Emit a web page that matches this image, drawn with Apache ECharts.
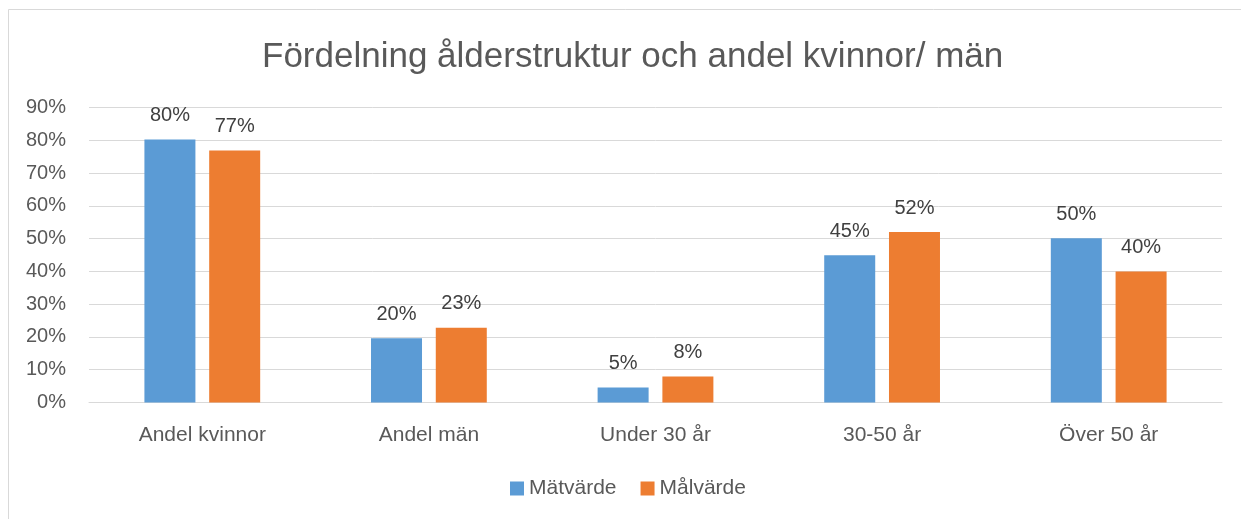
<!DOCTYPE html>
<html>
<head>
<meta charset="utf-8">
<script src="https://cdn.jsdelivr.net/npm/echarts@6/dist/echarts.min.js"></script>
<style>
  html, body { margin: 0; padding: 0; background: #fff; }
  #chart { width: 1241px; height: 519px; }
</style>
</head>
<body>
<div id="chart"></div>
<script>
// data (percent)
const categories = ['Andel kvinnor', 'Andel män', 'Under 30 år', '30-50 år', 'Över 50 år']
const matvarde = [80.2, 19.6, 4.6, 44.9, 50.1]
const malvarde = [76.9, 22.8, 7.9, 52.0, 40.0]
const legendNames = ['Mätvärde', 'Målvärde']

const font = 'Liberation Sans, Arial, sans-serif'

const labelOpt = {
  show: true,
  position: 'top',
  distance: 14,
  fontFamily: font,
  fontSize: 20,
  color: '#404040',
  formatter: p => Math.round(p.value) + '%'
}

const chart = echarts.init(document.getElementById('chart'), null, { renderer: 'canvas' })

chart.setOption({
  animation: false,
  backgroundColor: '#fff',
  graphic: [{
    type: 'rect',
    shape: { x: 8.5, y: 9.5, width: 1300, height: 600 },
    style: { fill: 'none', stroke: '#d9d9d9', lineWidth: 1 },
    silent: true
  }],
  title: {
    text: 'Fördelning ålderstruktur och andel kvinnor/ män',
    left: 257,
    top: 35,
    textStyle: { fontFamily: font, fontSize: 35, fontWeight: 'normal', color: '#595959' }
  },
  legend: {
    data: legendNames,
    left: 510,
    top: 478,
    padding: 0,
    itemWidth: 14,
    itemHeight: 14,
    itemGap: 24,
    icon: 'rect',
    textStyle: { fontFamily: font, fontSize: 21, color: '#595959' }
  },
  grid: { left: 89, right: 19, top: 107.5, bottom: 116.5 },
  xAxis: {
    type: 'category',
    data: categories,
    axisTick: { show: false },
    axisLine: { lineStyle: { color: '#d9d9d9', width: 1 } },
    axisLabel: { fontFamily: font, fontSize: 21, color: '#595959', margin: 22 }
  },
  yAxis: {
    type: 'value',
    min: 0,
    max: 90,
    interval: 10,
    axisLine: { show: false },
    axisTick: { show: false },
    splitLine: { lineStyle: { color: '#d9d9d9', width: 1 } },
    axisLabel: { fontFamily: font, fontSize: 20, color: '#595959', margin: 23, formatter: '{value}%' }
  },
  series: [
    {
      name: legendNames[0],
      type: 'bar',
      data: matvarde,
      barWidth: 51,
      barGap: '27%',
      itemStyle: { color: '#5B9BD5' },
      label: labelOpt
    },
    {
      name: legendNames[1],
      type: 'bar',
      data: malvarde,
      barWidth: 51,
      barGap: '27%',
      itemStyle: { color: '#ED7D31' },
      label: labelOpt
    }
  ]
})
</script>
</body>
</html>
